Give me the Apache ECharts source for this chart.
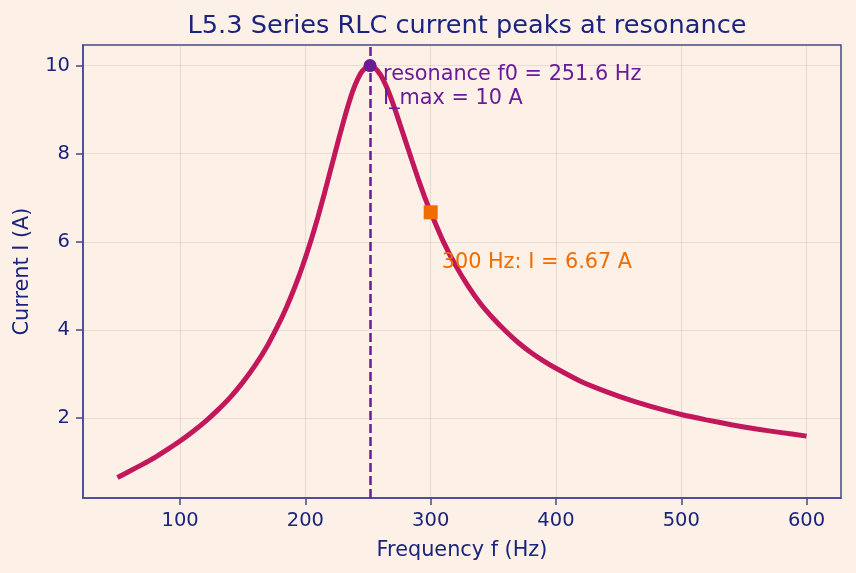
<!DOCTYPE html>
<html>
<head>
<meta charset="utf-8">
<script src="https://cdn.jsdelivr.net/npm/echarts@6/dist/echarts.min.js"></script>
<style>
html,body{margin:0;padding:0;background:#FDF1E7;}
#chart{width:856px;height:573px;}
</style>
</head>
<body>
<div id="chart"></div>
<script>
// ---- data ----
const freqHz = [50,60,70,80,90,100,110,120,130,140,150,160,170,180,185,190,195,200,205,210,215,220,225,230,235,240,245,250,251.6,255,260,265,270,275,280,285,290,295,300,310,320,330,340,350,360,370,380,390,400,420,440,460,480,500,520,540,560,580,600];
const currentA = [0.65,0.80,0.95,1.11,1.29,1.48,1.69,1.92,2.18,2.47,2.81,3.20,3.66,4.21,4.52,4.86,5.23,5.64,6.08,6.56,7.08,7.62,8.16,8.69,9.18,9.58,9.86,9.99,10.00,9.96,9.79,9.50,9.13,8.71,8.28,7.85,7.43,7.03,6.67,6.01,5.46,4.99,4.59,4.26,3.97,3.71,3.49,3.30,3.13,2.83,2.60,2.40,2.23,2.08,1.96,1.85,1.75,1.67,1.59];
const resonance = [251.6, 10];
const probe = [300, 6.67];
const xTicks = [100,200,300,400,500,600];
const yTicks = [2,4,6,8,10];
const titleText = 'L5.3 Series RLC current peaks at resonance';
const resonanceLabel = 'resonance f0 = 251.6 Hz\nI_max = 10 A';
const probeLabel = '300 Hz: I = 6.67 A';

const navy = '#1A237E';
const spine = '#44478E';
const gridCol = 'rgba(150,130,110,0.18)';
const font = 'DejaVu Sans';

const chart = echarts.init(document.getElementById('chart'), null, {renderer:'canvas'});
chart.setOption({
  backgroundColor: '#FDF1E7',
  animation: false,
  title: {
    text: titleText, left: 462, top: 8, textAlign: 'center',
    textStyle: {fontFamily: font, fontSize: 25.6, fontWeight: 'normal', color: navy}
  },
  grid: {left: 83, right: 15, top: 45, bottom: 75, show: true, borderColor: spine, borderWidth: 1.5, backgroundColor: 'transparent'},
  xAxis: {
    type: 'value', min: 22.5, max: 627.5,
    name: 'Frequency f (Hz)', nameLocation: 'middle', nameGap: 42,
    nameTextStyle: {fontFamily: font, fontSize: 20.8, color: navy},
    axisLine: {show: true, lineStyle: {color: spine, width: 1.5}},
    axisTick: {show: true, length: 7, lineStyle: {color: spine, width: 1.5}, customValues: xTicks},
    axisLabel: {fontFamily: font, fontSize: 19.5, color: navy, margin: 13, customValues: xTicks, showMinLabel: true, showMaxLabel: true},
    splitLine: {show: true, lineStyle: {color: gridCol, width: 1.2}}
  },
  yAxis: {
    type: 'value', min: 0.186, max: 10.467,
    name: 'Current I (A)', nameLocation: 'middle', nameGap: 50,
    nameTextStyle: {fontFamily: font, fontSize: 20.8, color: navy},
    axisLine: {show: true, lineStyle: {color: spine, width: 1.5}},
    axisTick: {show: true, length: 7, lineStyle: {color: spine, width: 1.5}, customValues: yTicks},
    axisLabel: {fontFamily: font, fontSize: 19.5, color: navy, margin: 13, customValues: yTicks},
    splitLine: {show: true, lineStyle: {color: gridCol, width: 1.2}}
  },
  series: [
    {
      type: 'line', name: 'current',
      data: freqHz.map((f, i) => [f, currentA[i]]),
      showSymbol: false, smooth: 0.15,
      lineStyle: {color: '#C2185B', width: 5},
      z: 3,
      markLine: {
        silent: true, symbol: 'none', label: {show: false},
        lineStyle: {color: '#6A1B9A', type: [9, 4], width: 2.5, opacity: 1},
        data: [{xAxis: resonance[0]}]
      }
    },
    {
      type: 'scatter', name: 'resonance',
      data: [resonance], symbol: 'circle', symbolSize: 13,
      itemStyle: {color: '#6A1B9A', opacity: 1}, z: 5,
      label: {show: true, formatter: resonanceLabel, position: [19.5, 4], align: 'left', verticalAlign: 'top',
        fontFamily: font, fontSize: 20.8, lineHeight: 24, color: '#6A1B9A', opacity: 1}
    },
    {
      type: 'scatter', name: 'probe',
      data: [probe], symbol: 'rect', symbolSize: 14,
      itemStyle: {color: '#EF6C00', opacity: 1}, z: 5,
      label: {show: true, formatter: probeLabel, position: [18, 45], align: 'left', verticalAlign: 'top',
        fontFamily: font, fontSize: 20.8, lineHeight: 24, color: '#EF6C00', opacity: 1}
    }
  ]
});
</script>
</body>
</html>
